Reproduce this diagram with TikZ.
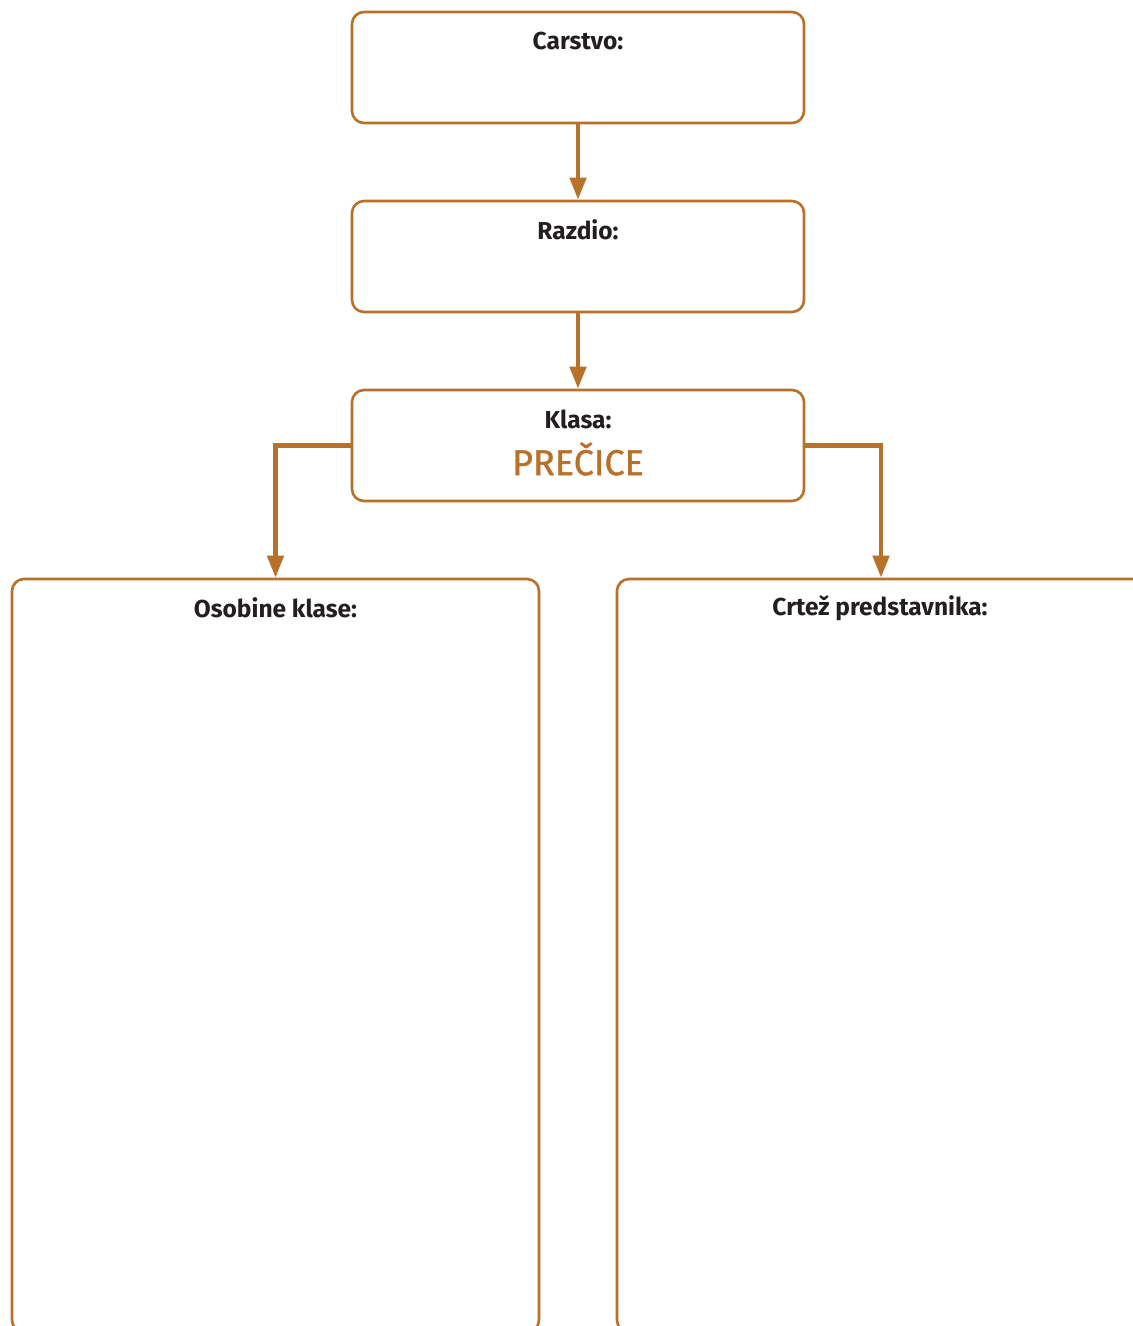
\documentclass[tikz,border=0pt]{standalone}
\usepackage{fontspec}
\setmainfont{Fira Sans}
\newfontfamily\titlefont{Fira Sans}[FakeBold=1.0]
\usetikzlibrary{arrows.meta}
\definecolor{rust}{RGB}{185,112,40}
\definecolor{ink}{RGB}{35,31,32}
\tikzset{
  box/.style={draw=rust, line width=2.6pt, rounded corners=12pt, rectangle, inner sep=0pt},
  head/.style={text=ink, font=\fontsize{24.5}{26}\selectfont\bfseries, inner sep=0pt},
  conn/.style={draw=rust, line width=4.5pt, -{Triangle[width=16pt,length=22pt]}},
}
\begin{document}
\begin{tikzpicture}[x=1pt,y=-1pt]
  \useasboundingbox (0,0) rectangle (1133,1326);
  \clip (0,0) rectangle (1133,1326);
  \fill[white] (0,0) rectangle (1133,1326);
  % chain of three ranks
  \node[box, minimum width=452pt, minimum height=111pt] (carstvo) at (578,67.5) {};
  \node[box, minimum width=452pt, minimum height=111pt] (razdio) at (578,256.5) {};
  \node[box, minimum width=452pt, minimum height=111pt] (klasa) at (578,445.5) {};
  % two tall boxes at the bottom
  \node[box, minimum width=527pt, minimum height=753pt] (osobine) at (275.5,955.5) {};
  \node[box, minimum width=528pt, minimum height=753pt] (crtez) at (881,955.5) {};
  % headings
  \node[head] (carstvo-t) at (578,41) {Carstvo:};
  \node[head] (razdio-t) at (578,230) {Razdio:};
  \node[head] (klasa-t) at (578,419) {Klasa:};
  \node[text=rust, font=\fontsize{36}{38}\selectfont\titlefont, inner sep=0pt] (precice) at (578,459) {PREČICE};
  \node[head] (osobine-t) at (275.5,608) {Osobine klase:};
  \node[head] (crtez-t) at (880,608) {Crtež predstavnika:};
  % connectors
  \draw[conn] (carstvo.south) -- (razdio.north);
  \draw[conn] (razdio.south) -- (klasa.north);
  \draw[conn] (klasa.west) -| (osobine.north);
  \draw[conn] (klasa.east) -| (crtez.north);
\end{tikzpicture}
\end{document}
